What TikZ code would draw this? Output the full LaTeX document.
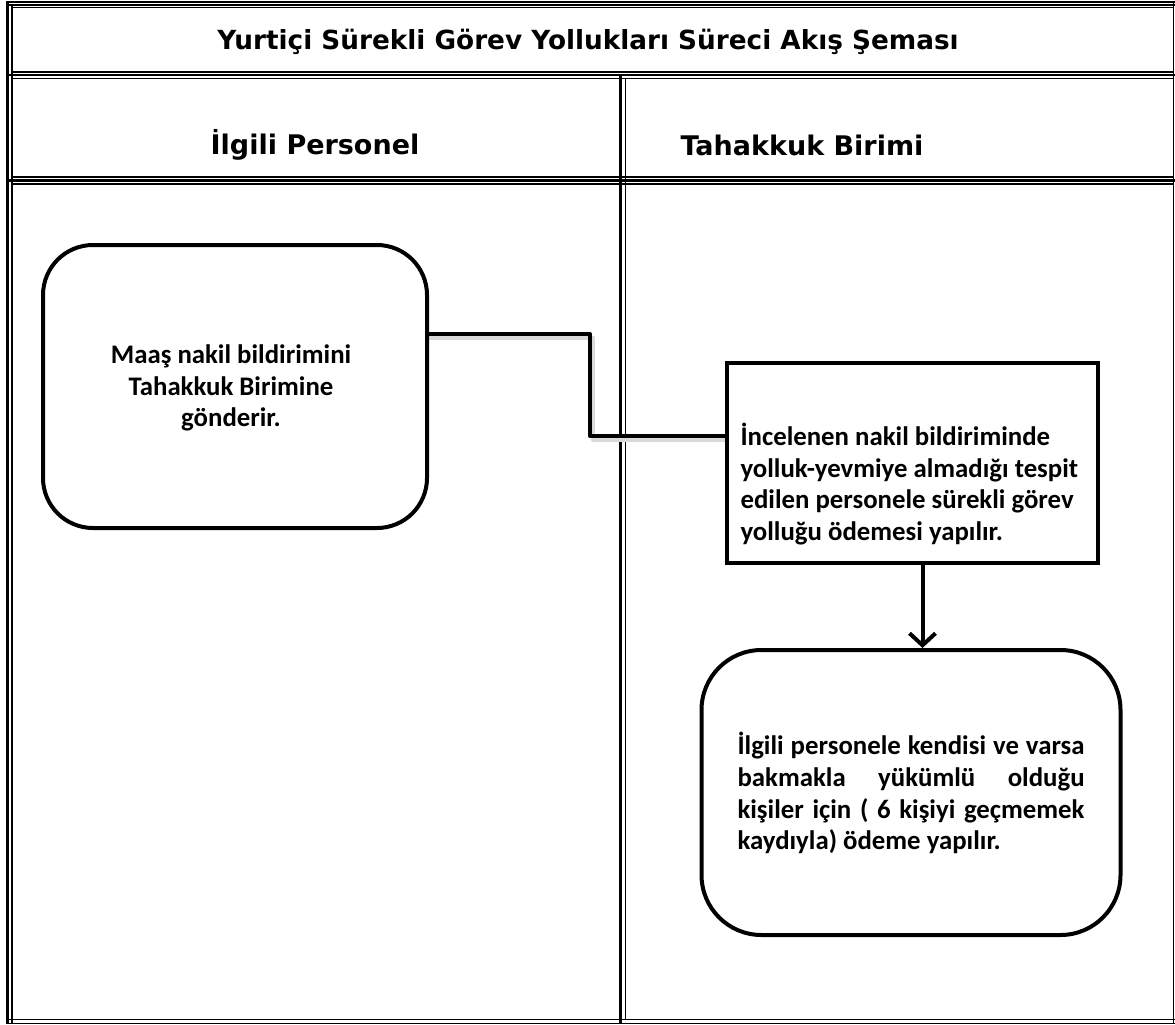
\documentclass[tikz,border=0pt]{standalone}
\usepackage{fontspec}
\setmainfont{Carlito}
\newfontfamily\headfont{DejaVu Sans}
\usetikzlibrary{arrows.meta,positioning}

\tikzset{
  thickrule/.style={line width=3.2pt},
  thinrule/.style={line width=1.4pt},
  headtxt/.style={font=\headfont\bfseries\fontsize{27}{32}\selectfont},
  boxtxt/.style={font=\bfseries\fontsize{26.8}{31.8}\selectfont, align=left},
  flowbox/.style={draw, line width=4pt, rectangle},
  flowline/.style={line width=4pt, line join=round},
  lineshade/.style={line width=4pt, black!15, line join=round},
}

\begin{document}
\begin{tikzpicture}[x=1pt,y=-1pt]
\useasboundingbox (0,0) rectangle (1175,1025);

% table frame
\draw[thickrule] (7.5,1) -- (7.5,1024);
\draw[thinrule] (12,6) -- (12,1024);
\draw[thinrule] (1173.5,1) -- (1173.5,1024);
\draw[line width=2pt] (6,1.8) -- (1175,1.8);
\draw[line width=2pt] (6,5) -- (1175,5);
\draw[thinrule] (12,7.8) -- (1173.5,7.8);
\draw[thinrule] (12,72) -- (1173.5,72);
\draw[line width=2.6pt] (6,75) -- (1175,75);
\draw[thinrule] (12,78.5) -- (1173.5,78.5);
\draw[thinrule] (12,177) -- (1173.5,177);
\draw[line width=3.6pt] (6,180.5) -- (1175,180.5);
\draw[thinrule] (12,184) -- (1173.5,184);
\draw[thinrule] (6,1019.5) -- (1175,1019.5);
\draw[thinrule] (6,1023.5) -- (1175,1023.5);
\draw[thickrule] (620.5,76) -- (620.5,1023.5);
\draw[thinrule] (625.5,78.5) -- (625.5,1019.5);

% headings
\node[headtxt, font=\headfont\bfseries\fontsize{26.3}{32}\selectfont] (title) at (588,42) {Yurtiçi Sürekli Görev Yollukları Süreci Akış Şeması};
\node[headtxt] (lane1) at (315,145) {İlgili Personel};
\node[headtxt, anchor=west] (lane2) at (677,145) {Tahakkuk Birimi};

% connectors (under the boxes)
\coordinate (knee1) at (590,334);
\coordinate (knee2) at (590,436);
\draw[lineshade] (428,337.5) -- (593,337.5) -- (593,439.5) -- (727,439.5);

% boxes
\node[flowbox, rounded corners=50pt, minimum width=384pt, minimum height=283pt] (maas) at (235,386.5) {};
\node[flowbox, fill=white, minimum width=371pt, minimum height=200pt] (incele) at (912.5,463) {};
\node[flowbox, rounded corners=60pt, minimum width=419pt, minimum height=285pt] (odeme) at (911,792.5) {};

\node[boxtxt, align=center] (maastxt) at (231,388) {Maaş nakil bildirimini\\Tahakkuk Birimine\\gönderir.};
\node[boxtxt, anchor=west] (inceletxt) at (737,484) {İncelenen nakil bildiriminde\\yolluk-yevmiye almadığı tespit\\edilen personele sürekli görev\\yolluğu ödemesi yapılır.};
\node[boxtxt, anchor=west] (odemetxt) at (734,793) {\makebox[347pt][s]{İlgili personele kendisi ve varsa}\\
  \makebox[347pt][s]{bakmakla yükümlü olduğu}\\
  \makebox[347pt][s]{kişiler için ( 6 kişiyi geçmemek}\\
  kaydıyla) ödeme yapılır.};

\draw[flowline] ([yshift=52.5pt]maas.east) -- (knee1) -- (knee2) -- ([yshift=27pt]incele.west);
\draw[flowline, -{Straight Barb[length=12pt,width=26pt]}] ([xshift=10pt]incele.south) -- ([xshift=10pt]incele.south |- odeme.north);
\end{tikzpicture}
\end{document}
